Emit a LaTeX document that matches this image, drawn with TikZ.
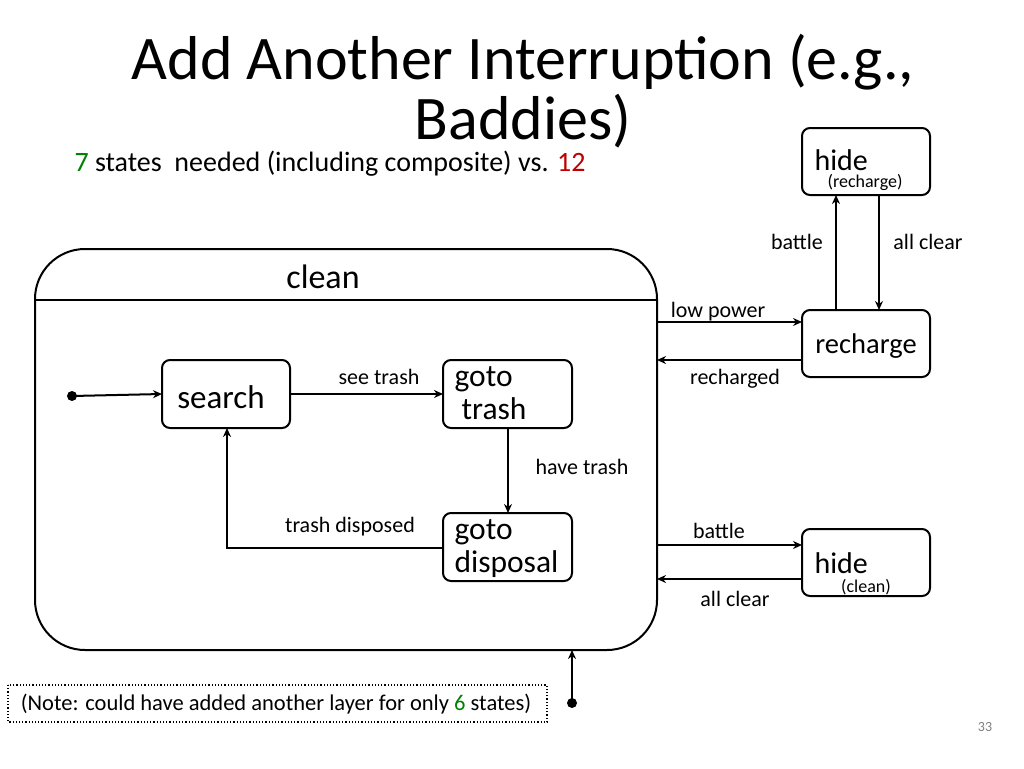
\documentclass[tikz,border=0pt]{standalone}
\usepackage{fontspec}
\setmainfont{Carlito}
\usetikzlibrary{arrows.meta}
\definecolor{gr}{RGB}{0,128,0}
\definecolor{rd}{RGB}{192,0,0}
\begin{document}
\begin{tikzpicture}[x=1pt,y=-1pt,
 st/.style={draw,line width=2pt,rounded corners=8pt},
 ar/.style={line width=2pt,-{Stealth[length=9pt,width=8pt]}},
 lb/.style={font=\fontsize{22}{24}\selectfont},
 bt/.style={font=\fontsize{31.5}{33}\selectfont}]
\useasboundingbox (0,0) rectangle (1024,768);
\node[font=\fontsize{62}{60}\selectfont,align=center] (title) at (523,91) {Add Another Interruption (e.g.,\\Baddies)};
\node[font=\fontsize{28}{30}\selectfont,anchor=west] (sub) at (71,164) {\textcolor{gr}{7} states\ \ needed (including composite) vs. \textcolor{rd}{12}};
% clean composite
\draw[line width=2pt,rounded corners=50pt] (35,249) rectangle (657,650);
\coordinate (cl) at (35,300); \coordinate (cr) at (657,300);
\draw[line width=2pt] (cl) -- (cr);
\node[font=\fontsize{34}{36}\selectfont] (clean) at (323,277) {clean};
\coordinate (cleanR1) at (657,322);
\coordinate (cleanR2) at (657,360);
\coordinate (cleanR3) at (657,545);
\coordinate (cleanR4) at (657,579);
\coordinate (cleanB) at (572,650);
% inner states
\draw[st] (162,360) rectangle (290,428); \node[font=\fontsize{33}{34}\selectfont] (search) at (221,397) {search};
\draw[st] (443,360) rectangle (572,428); \node[bt,anchor=north west,align=left] (gt) at (451,363) {goto\\\ trash};
\draw[st] (443,513) rectangle (572,581); \node[bt,anchor=north west,align=left] (gd) at (451,516) {goto\\disposal};
\coordinate (s0) at (72,396);
\fill (s0) circle (5pt);
\coordinate (sL) at (162,394);
\draw[ar] (s0) -- (sL);
\coordinate (sR) at (290,394); \coordinate (gtL) at (443,394);
\draw[ar] (sR) -- (gtL);
\node[lb] (l1) at (379,377) {see trash};
\coordinate (gtB) at (508,428); \coordinate (gdT) at (508,513);
\draw[ar] (gtB) -- (gdT);
\node[lb] (l2) at (582,467) {have trash};
\coordinate (gdL) at (443,548); \coordinate (sB) at (227,428);
\draw[ar] (gdL) -| (sB);
\node[lb] (l3) at (350,527) {trash disposed};
% recharge
\draw[st] (802,310) rectangle (930,377); \node[font=\fontsize{28.5}{30}\selectfont] (rec) at (866,346) {recharge};
\draw[st] (802,128) rectangle (930,195);
\node[font=\fontsize{30}{30}\selectfont,anchor=west] (h1) at (811,160) {hide};
\node[font=\fontsize{18}{20}\selectfont] (h1s) at (865,182) {(recharge)};
\draw[st] (802,529) rectangle (930,596);
\node[font=\fontsize{30}{30}\selectfont,anchor=west] (h2) at (811,563) {hide};
\node[font=\fontsize{18}{20}\selectfont] (h2s) at (866,587) {(clean)};
\draw[ar] (cleanR1) -- (802,322);
\node[lb] (l4) at (718,312) {low power};
\draw[ar] (802,360) -- (cleanR2);
\node[lb] (l5) at (735,379) {recharged};
\draw[ar] (836,310) -- (836,195);
\node[lb] (l6) at (797,242) {battle};
\draw[ar] (879,195) -- (879,310);
\node[lb] (l7) at (928,242) {all clear};
\draw[ar] (cleanR3) -- (802,545);
\node[lb] (l8) at (719,531) {battle};
\draw[ar] (802,579) -- (cleanR4);
\node[lb] (l9) at (735,599) {all clear};
\coordinate (s1) at (572,703);
\fill (s1) circle (5pt);
\draw[ar] (s1) -- (cleanB);
% note
\draw[dotted,line width=1.2pt] (8,685) rectangle (547,722);
\node[font=\fontsize{22.5}{24}\selectfont] (note) at (276,704) {(Note: could have added another layer for only \textcolor{gr}{6} states)};
\node[font=\fontsize{14}{16}\selectfont,text=gray] (pg) at (985,727) {33};
\end{tikzpicture}
\end{document}
